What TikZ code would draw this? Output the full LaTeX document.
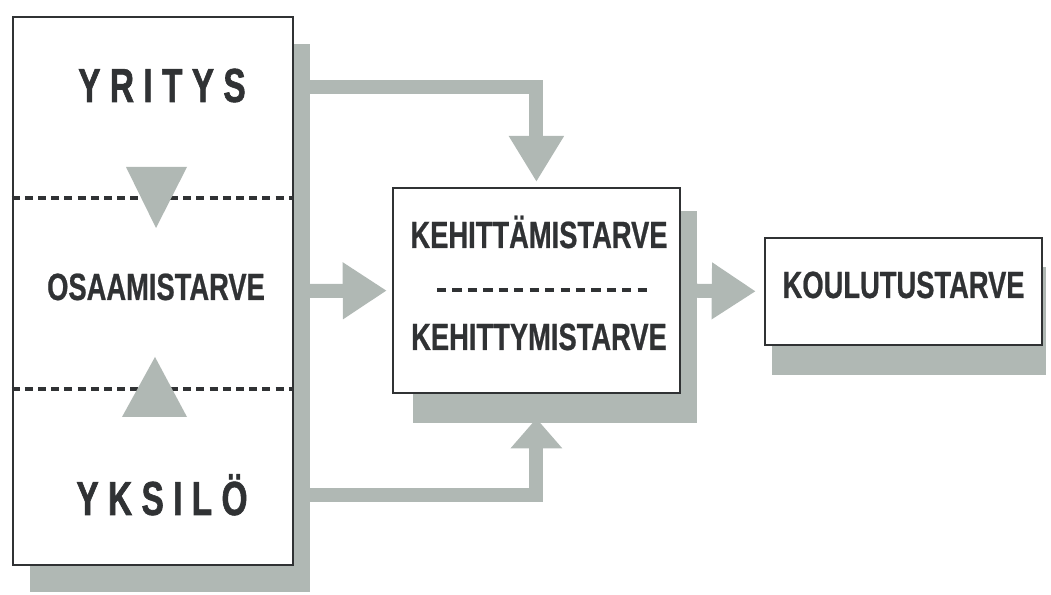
\documentclass[tikz,border=0pt]{standalone}
\usepackage{fontspec}
\setmainfont{Liberation Sans}
\newfontfamily\narrowfont{Liberation Sans}[FakeStretch=0.72,FakeBold=0.6]
\newfontfamily\widefont{Liberation Sans}[FakeStretch=0.7,FakeBold=1.2,LetterSpace=19.5]
\usepackage{xcolor}
\usepackage{tikz}
\usetikzlibrary{positioning,arrows.meta,calc}

\definecolor{shadegray}{RGB}{176,184,180}
\definecolor{inkgray}{RGB}{48,50,52}

\begin{document}
\begin{tikzpicture}[
  every node/.style={text=inkgray},
  frame/.style={draw=inkgray, line width=1.9pt, fill=white, inner sep=0pt},
  label/.style={font=\narrowfont\bfseries\fontsize{27}{30}\selectfont, anchor=base, inner sep=0pt},
  biglabel/.style={font=\widefont\bfseries\fontsize{34}{36}\selectfont, anchor=base, inner sep=0pt},
  divider/.style={draw=inkgray, line width=2.8pt, dash pattern=on 0.2cm off 0.13cm},
  flow/.style={draw=shadegray, line width=0.35cm, -{Triangle[width=1.35cm, length=1.1cm]}},
  >=Stealth
]
\useasboundingbox (0,0) rectangle (26.275,14.875);

% shadows
\fill[shadegray] (0.75,0.075) rectangle (7.75,13.775);
\fill[shadegray] (10.325,4.3) rectangle (17.425,9.6);
\fill[shadegray] (19.3,5.5) rectangle (26.15,8.2);

% boxes
\node[frame, minimum width=7.0cm, minimum height=13.7cm] (org) at (3.825,7.6) {};
\node[frame, minimum width=7.175cm, minimum height=5.125cm] (kehitys) at (13.41,7.61) {};
\node[frame, minimum width=6.925cm, minimum height=2.675cm] (koulutus) at (22.59,7.59) {};

% left column
\node[biglabel] (yritys) at (4.05,12.325) {YRITYS};
\node[label] (osaamis) at (3.9,7.375) {OSAAMISTARVE};
\node[biglabel] (yksilo) at (4.05,2.0) {YKSILÖ};

\coordinate (cutA) at (0,9.925);
\coordinate (cutB) at (0,5.15);
\draw[divider] (org.west |- cutA) -- (org.east |- cutA);
\draw[divider] (org.west |- cutB) -- (org.east |- cutB);
\fill[shadegray] (3.15,10.7) -- (4.675,10.7) -- (3.9,9.175) -- cycle;
\fill[shadegray] (3.05,4.45) -- (4.675,4.45) -- (3.875,5.95) -- cycle;

% middle column
\node[label] (ylempi) at (13.475,8.675) {KEHITTÄMISTARVE};
\node[label] (alempi) at (13.475,6.125) {KEHITTYMISTARVE};
\draw[divider, dash pattern=on 0.23cm off 0.156cm] (10.925,7.625) -- (16.175,7.625);

\node[label] at (koulutus.center |- 0,7.425) {KOULUTUSTARVE};

% arrows
\draw[flow, -{Triangle[width=1.3cm, length=1.15cm]}] (org.east |- 0,12.7) -| ([yshift=0.12cm]kehitys.north);
\draw[flow, shorten >=0.12cm] (org.east) -- (kehitys.west);
\draw[flow, -{Triangle[width=1.25cm, length=0.75cm]}, shorten >=0.6cm] (org.east |- 0,2.5) -| (kehitys.south);
\draw[flow, shorten >=0.2cm] (kehitys.east) -- (koulutus.west);
\end{tikzpicture}
\end{document}
